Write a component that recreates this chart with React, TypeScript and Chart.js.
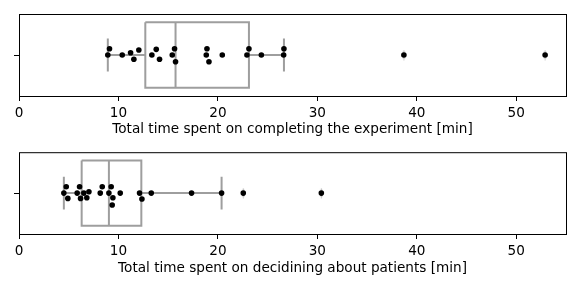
import React, { useEffect, useRef } from 'react';
import { Chart, registerables } from 'chart.js';
Chart.register(...registerables);

const xTicks = [0, 10, 20, 30, 40, 50];
const xMax = 55;

// Panel 1: total time spent on completing the experiment
const expTimes = [8.93, 9.1, 10.38, 11.22, 11.55, 12.05, 13.36, 13.8, 14.13, 15.41, 15.64, 15.74, 18.9, 18.83, 19.1, 20.44, 22.92, 23.12, 24.37, 26.61, 26.64, 38.7, 52.9];
const expSwarm = [0, -0.077, 0, -0.028, 0.052, -0.061, 0, -0.069, 0.052, 0, -0.077, 0.082, -0.077, 0, 0.082, 0, 0, -0.077, 0, 0, -0.077, 0, 0];
const expBox = [8.93, 12.7, 15.74, 23.12, 26.64]; // whisker low, q1, median, q3, whisker high
const expOutliers = [38.7, 52.9];

// Panel 2: total time spent on deciding about patients
const decTimes = [4.51, 4.75, 4.91, 5.85, 6.09, 6.19, 6.52, 6.82, 7.03, 8.17, 8.37, 9.04, 9.27, 9.44, 9.37, 10.18, 12.12, 12.36, 13.3, 17.35, 20.37, 22.55, 30.4];
const decSwarm = [0, -0.077, 0.065, 0, -0.077, 0.065, 0, 0.057, -0.016, 0, -0.077, 0, -0.077, 0.057, 0.146, 0, 0, 0.073, 0, 0, 0, 0, 0];
const decBox = [4.51, 6.3, 9.04, 12.3, 20.37];
const decOutliers = [22.55, 30.4];

const titles = [
  'Total time spent on completing the experiment [min]',
  'Total time spent on decidining about patients [min]',
];

const FONT = 'DejaVu Sans';
const FSIZE = 13.6;
const GRAY = '#9e9e9e';

function makeFlier() {
  const c = document.createElement('canvas');
  c.width = 5;
  c.height = 11;
  const g = c.getContext('2d')!;
  g.fillStyle = '#bdbdbd';
  g.beginPath();
  g.moveTo(2.5, 0);
  g.lineTo(4.5, 5.5);
  g.lineTo(2.5, 11);
  g.lineTo(0.5, 5.5);
  g.closePath();
  g.fill();
  return c;
}

const framePlugin = {
  id: 'frame',
  afterDraw(chart: any) {
    const { ctx, chartArea: a } = chart;
    ctx.save();
    ctx.strokeStyle = '#000';
    ctx.lineWidth = 1;
    ctx.strokeRect(a.left + 0.5, a.top + 0.5, a.right - a.left, a.bottom - a.top);
    ctx.restore();
  },
};

function buildConfig(times: number[], swarm: number[], box: number[], outliers: number[], title: string, padTop: number, axisHeight: number, titlePad: number): any {
  const [lo, q1, med, q3, hi] = box;
  const line = (pts: { x: number; y: number }[]) => ({
    data: pts,
    showLine: true,
    borderColor: GRAY,
    borderWidth: 2,
    pointRadius: 0,
    fill: false,
  });
  const flier = makeFlier();
  return {
    type: 'scatter',
    data: {
      datasets: [
        {
          data: times.map((t, i) => ({ x: t, y: swarm[i] })),
          pointRadius: 2.8,
          pointBackgroundColor: '#000',
          pointBorderWidth: 0,
          borderColor: '#000',
        },
        {
          data: outliers.map((v) => ({ x: v, y: 0 })),
          pointStyle: flier,
          pointRadius: 5,
        },
        line([
          { x: q1, y: -0.4 },
          { x: q3, y: -0.4 },
          { x: q3, y: 0.4 },
          { x: q1, y: 0.4 },
          { x: q1, y: -0.4 },
        ]),
        line([
          { x: med, y: -0.4 },
          { x: med, y: 0.4 },
        ]),
        line([
          { x: lo, y: 0 },
          { x: q1, y: 0 },
        ]),
        line([
          { x: q3, y: 0 },
          { x: hi, y: 0 },
        ]),
        line([
          { x: lo, y: -0.2 },
          { x: lo, y: 0.2 },
        ]),
        line([
          { x: hi, y: -0.2 },
          { x: hi, y: 0.2 },
        ]),
      ],
    },
    options: {
      animation: false,
      responsive: false,
      maintainAspectRatio: false,
      layout: { padding: { left: 0, right: 15, top: padTop, bottom: 0 } },
      plugins: { legend: { display: false }, tooltip: { enabled: false } },
      scales: {
        x: {
          type: 'linear',
          min: 0,
          max: xMax,
          afterBuildTicks: (s: any) => {
            s.ticks = xTicks.map((v) => ({ value: v }));
          },
          afterFit: (s: any) => {
            s.height = axisHeight;
          },
          grid: { drawOnChartArea: false, drawTicks: true, tickLength: 5, color: '#000', tickWidth: 1 },
          border: { display: false },
          ticks: { color: '#000', font: { family: FONT, size: FSIZE }, padding: 4, maxRotation: 0 },
          title: {
            display: true,
            text: title,
            color: '#000',
            font: { family: FONT, size: FSIZE },
            padding: { top: 2, bottom: titlePad },
          },
        },
        y: {
          type: 'linear',
          min: -0.5,
          max: 0.5,
          reverse: true,
          afterBuildTicks: (s: any) => {
            s.ticks = [{ value: 0 }];
          },
          afterFit: (s: any) => {
            s.width = 19;
          },
          grid: { drawOnChartArea: false, drawTicks: true, tickLength: 5, color: '#000', tickWidth: 1 },
          border: { display: false },
          ticks: { callback: () => '', padding: 0 },
        },
      },
    },
    plugins: [framePlugin],
  };
}

export default function App() {
  const r1 = useRef<HTMLCanvasElement>(null);
  const r2 = useRef<HTMLCanvasElement>(null);
  useEffect(() => {
    const c1 = new Chart(r1.current!, buildConfig(expTimes, expSwarm, expBox, expOutliers, titles[0], 14, 49, 7));
    const c2 = new Chart(r2.current!, buildConfig(decTimes, decSwarm, decBox, decOutliers, titles[1], 7, 57, 14));
    return () => {
      c1.destroy();
      c2.destroy();
    };
  }, []);
  return (
    <div style={{ position: 'absolute', left: 0, top: 0, width: 581, height: 291, background: '#fff' }}>
      <canvas ref={r1} width={581} height={145} style={{ position: 'absolute', left: 0, top: 0 }} />
      <canvas ref={r2} width={581} height={146} style={{ position: 'absolute', left: 0, top: 145 }} />
    </div>
  );
}
